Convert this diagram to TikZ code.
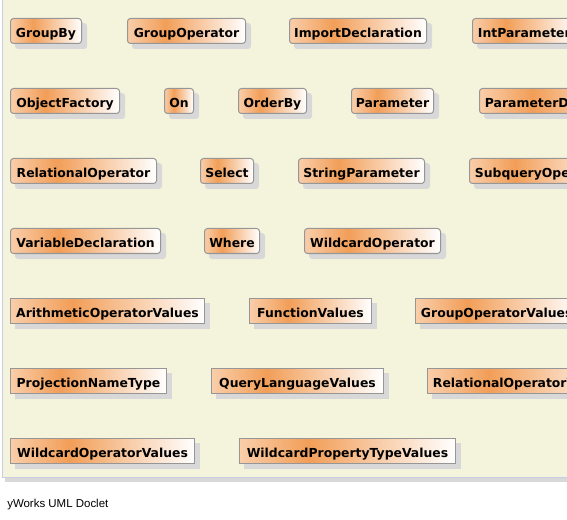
\documentclass[tikz,border=0pt]{standalone}
\usepackage{fontspec}
\setmainfont{DejaVu Sans}
\newfontfamily\footfont{Liberation Sans}
\definecolor{oL}{RGB}{249,206,170}
\definecolor{oM}{RGB}{242,158,88}
\definecolor{bord}{RGB}{150,150,150}
\definecolor{shd}{RGB}{216,216,216}
\definecolor{panelc}{RGB}{244,244,220}
\definecolor{pedge}{RGB}{200,204,228}
\pgfdeclarehorizontalshading{boxshade}{100bp}{color(0bp)=(oL); color(25bp)=(oL); color(41bp)=(oM); color(75bp)=(white); color(100bp)=(white)}
\pgfdeclarelayer{panellayer}
\pgfdeclarelayer{shadowlayer}
\pgfsetlayers{panellayer,shadowlayer,main}
\tikzset{
  umlbox/.style={draw=bord, line width=0.75pt, shading=boxshade, anchor=north west,
    minimum height=18.75pt, inner xsep=3pt, inner ysep=0pt,
    text height=9.25pt, text depth=0pt,
    font=\bfseries\fontsize{9.3pt}{11pt}\selectfont, text=black},
  clsbox/.style={umlbox, rounded corners=2.25pt},
  enumbox/.style={umlbox},
}
\begin{document}
\begin{tikzpicture}[x=0.75pt,y=-0.75pt]
\clip (0,0) rectangle (567,520);
\useasboundingbox (0,0) rectangle (567,520);
% row 1
\node[clsbox, minimum width=53.25pt] (n1) at (10,18) {GroupBy};
\node[clsbox, minimum width=88.5pt] (n2) at (127,18) {GroupOperator};
\node[clsbox, minimum width=102.75pt] (n3) at (289,18) {ImportDeclaration};
\node[clsbox, inner xsep=4.1pt] (n4) at (472,18) {IntParameter};
% row 2
\node[clsbox, minimum width=81.75pt] (n5) at (10,88) {ObjectFactory};
\node[clsbox, minimum width=21.75pt, inner xsep=2pt] (n6) at (164,88) {On};
\node[clsbox, minimum width=51pt] (n7) at (238,88) {OrderBy};
\node[clsbox, minimum width=61.5pt] (n8) at (351,88) {Parameter};
\node[clsbox, inner xsep=4.1pt] (n9) at (479,88) {ParameterDeclaration};
% row 3
\node[clsbox, minimum width=109.5pt] (n10) at (10,158) {RelationalOperator};
\node[clsbox, minimum width=39.75pt] (n11) at (200,158) {Select};
\node[clsbox, minimum width=94.5pt] (n12) at (298,158) {StringParameter};
\node[clsbox, inner xsep=4.1pt] (n13) at (469,158) {SubqueryOperator};
% row 4
\node[clsbox, minimum width=112.5pt] (n14) at (10,228) {VariableDeclaration};
\node[clsbox, minimum width=41.25pt] (n15) at (204,228) {Where};
\node[clsbox, minimum width=102pt] (n16) at (304,228) {WildcardOperator};
% row 5
\node[enumbox, minimum width=145.5pt] (e1) at (10,298) {ArithmeticOperatorValues};
\node[enumbox, minimum width=91.5pt] (e2) at (249,298) {FunctionValues};
\node[enumbox, inner xsep=4.1pt] (e3) at (415,298) {GroupOperatorValues};
% row 6
\node[enumbox, minimum width=117pt] (e4) at (10,368) {ProjectionNameType};
\node[enumbox, minimum width=129pt] (e5) at (211,368) {QueryLanguageValues};
\node[enumbox, inner xsep=4.1pt] (e6) at (427,368) {RelationalOperatorValues};
% row 7
\node[enumbox, minimum width=138pt] (e7) at (10,438) {WildcardOperatorValues};
\node[enumbox, minimum width=162pt] (e8) at (239,438) {WildcardPropertyTypeValues};
% footer
\node[anchor=base west, inner sep=0pt, font=\footfont\fontsize{8.6pt}{10pt}\selectfont] (footer) at (7,507) {yWorks UML Doclet};
% shadows
\begin{pgfonlayer}{shadowlayer}
\foreach \n in {n1,n2,n3,n4,n5,n6,n7,n8,n9,n10,n11,n12,n13,n14,n15,n16}
  \fill[shd, rounded corners=2.25pt] ([shift={(5,5)}]\n.north west) rectangle ([shift={(5,5)}]\n.south east);
\foreach \n in {e1,e2,e3,e4,e5,e6,e7,e8}
  \fill[shd] ([shift={(5,5)}]\n.north west) rectangle ([shift={(5,5)}]\n.south east);
\end{pgfonlayer}
% panel
\begin{pgfonlayer}{panellayer}
\fill[white] (0,0) rectangle (567,520);
\fill[shd] (5,5) rectangle (575,482);
\fill[panelc] (2,-2) rectangle (575,477);
\draw[pedge, line width=0.75pt] (2,-2) -- (2,477) -- (575,477);
\end{pgfonlayer}
\end{tikzpicture}
\end{document}
